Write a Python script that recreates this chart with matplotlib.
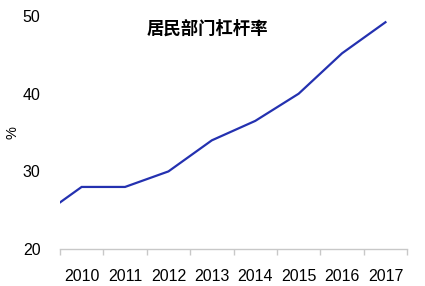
import matplotlib
matplotlib.use("Agg")
import matplotlib.pyplot as plt
import numpy as np

# data (2009 point sits outside the visible range, only its line segment shows)
years = [2009, 2010, 2011, 2012, 2013, 2014, 2015, 2016, 2017]
leverage = [24, 28, 28, 30, 34, 36.5, 40, 45.2, 49.2]
shown_years = [2010, 2011, 2012, 2013, 2014, 2015, 2016, 2017]
y_ticks = [20, 30, 40, 50]

LINE_BLUE = "#2431B0"
AXIS_GREY = "#C8C8C8"

plt.rcParams["font.family"] = ["Liberation Sans", "DejaVu Sans"]

fig = plt.figure(figsize=(4.25, 2.86), dpi=100)
ax = fig.add_axes([0.141, 0.129, 0.817, 0.815])

ax.plot(years, leverage, color=LINE_BLUE, linewidth=1.6, solid_joinstyle="miter")

ax.set_xlim(shown_years[0] - 0.5, shown_years[-1] + 0.5)
ax.set_ylim(y_ticks[0], y_ticks[-1])

# x axis: labels at categories, tick marks between them
ax.set_xticks(shown_years)
ax.set_xticklabels([str(y) for y in shown_years], fontsize=11.5)
ax.set_xticks(np.arange(shown_years[0] - 0.5, shown_years[-1] + 0.6, 1), minor=True)
ax.tick_params(axis="x", which="major", length=0, pad=14)
ax.tick_params(axis="x", which="minor", length=4, color=AXIS_GREY, width=1)

ax.set_yticks(y_ticks)
ax.set_yticklabels([str(v) for v in y_ticks], fontsize=11.5)
ax.tick_params(axis="y", length=0, pad=14)

for side in ["left", "right", "top"]:
    ax.spines[side].set_visible(False)
ax.spines["bottom"].set_color(AXIS_GREY)
ax.spines["bottom"].set_linewidth(1)

fig.text(0.03, 0.535, "%", rotation=90, ha="center", va="center", fontsize=10.5)

fig.text(0.487, 0.898, "居民部门杠杆率", ha="center", va="center",
         fontsize=12.5, fontweight="bold",
         family=["Noto Sans CJK SC", "DejaVu Sans"])

fig.savefig("out.png", dpi=100, facecolor="white")
